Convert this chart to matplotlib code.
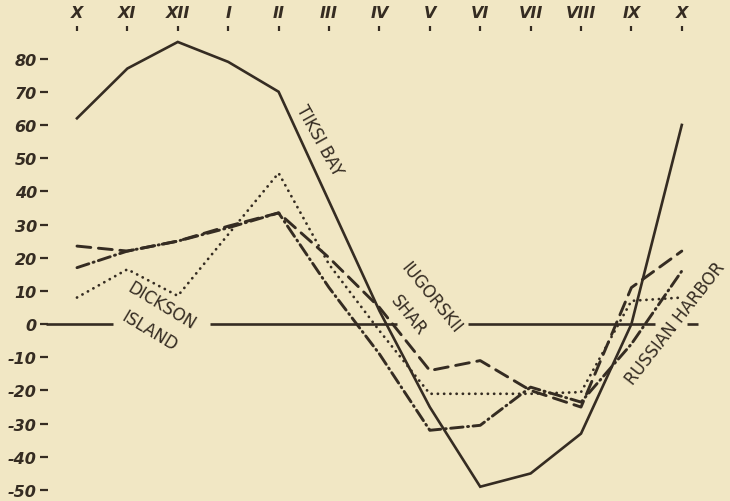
import matplotlib
matplotlib.use("Agg")
import matplotlib.pyplot as plt
from matplotlib.font_manager import FontProperties

# Monthly values, October through the following October
months = ["X", "XI", "XII", "I", "II", "III", "IV", "V", "VI", "VII", "VIII", "IX", "X"]
tiksi_bay = [62, 77, 85, 79, 70, 37, 4, -25, -49, -45, -33, 0, 60]
dickson_island = [8, 16.5, 8.5, 27, 45.5, 18, -2, -21, -21, -21, -20.5, 7, 8]
iugorskii_shar = [23.5, 22, 25, 29.5, 33.5, 20, 5, -14, -11, -20, -25, 11, 22]
russian_harbor = [17, 22, 25, 29, 33.5, 11, -9, -32, -30.5, -19, -23.5, -6, 16]

y_ticks = [80, 70, 60, 50, 40, 30, 20, 10, 0, -10, -20, -30, -40, -50]
y_tick_labels = ["80", "70", "60", "50", "40", "30", "20", "10", "0",
                 "-10", "-20", "-30", "-40", "-50"]

paper = "#f1e7c4"
ink = "#352c22"

plt.rcParams["lines.scale_dashes"] = False

fig = plt.figure(figsize=(7.30, 5.02), dpi=100, facecolor=paper)
ax = fig.add_axes([48 / 730, 0, 682 / 730, 470 / 502])
ax.set_facecolor(paper)

x = list(range(len(months)))

ax.plot(x, tiksi_bay, color=ink, lw=1.9, solid_joinstyle="miter", clip_on=False)
ax.plot(x, dickson_island, color=ink, lw=2.0, linestyle=(0, (0.1, 4.4)),
        dash_capstyle="round", clip_on=False)
ax.plot(x, iugorskii_shar, color=ink, lw=2.1, linestyle=(0, (10, 5.5)),
        dash_capstyle="round", clip_on=False)
ax.plot(x, russian_harbor, color=ink, lw=2.1, linestyle=(0, (9, 3.2, 0.8, 3.2)),
        dash_capstyle="round", clip_on=False)

# zero reference line, broken where the station names sit on it
for x0, x1 in [(-0.62, 0.71), (2.64, 6.35), (7.76, 11.47), (12.10, 12.32)]:
    ax.plot([x0, x1], [0, 0], color=ink, lw=1.9, solid_capstyle="butt", clip_on=False)

label_kw = dict(color=ink, fontsize=12, family="DejaVu Sans",
                ha="center", va="center", rotation_mode="anchor")
ax.text(4.80, 55.5, "TIKSI BAY", rotation=-61, **label_kw)
ax.text(1.68, 5.6, "DICKSON", rotation=-31, **label_kw)
ax.text(1.44, -2.0, "ISLAND", rotation=-31, **label_kw)
ax.text(7.02, 8.0, "IUGORSKII", rotation=-51, **label_kw)
ax.text(6.58, 2.8, "SHAR", rotation=-51, **label_kw)
ax.text(10.95, -17.5, "RUSSIAN HARBOR", rotation=52, color=ink, fontsize=12,
        family="DejaVu Sans", ha="left", va="center", rotation_mode="anchor",
        clip_on=False)

ax.set_xlim(-0.575, 12.956)
ax.set_ylim(-53.3, 88.3)

for side in ax.spines.values():
    side.set_visible(False)

ax.xaxis.tick_top()
ax.set_xticks(x)
ax.set_xticklabels(months)
ax.set_yticks(y_ticks)
ax.set_yticklabels(y_tick_labels)

tick_font = FontProperties(family="DejaVu Sans", style="italic", weight="bold", size=11.5)
for lab in ax.get_xticklabels() + ax.get_yticklabels():
    lab.set_fontproperties(tick_font)
    lab.set_color(ink)

ax.tick_params(axis="x", top=True, bottom=False, direction="out",
               length=3.8, width=1.6, pad=4.0, color=ink)
ax.tick_params(axis="y", left=True, direction="out",
               length=5.8, width=1.6, pad=2.2, color=ink)

fig.savefig("out.png", dpi=100, facecolor=paper)
